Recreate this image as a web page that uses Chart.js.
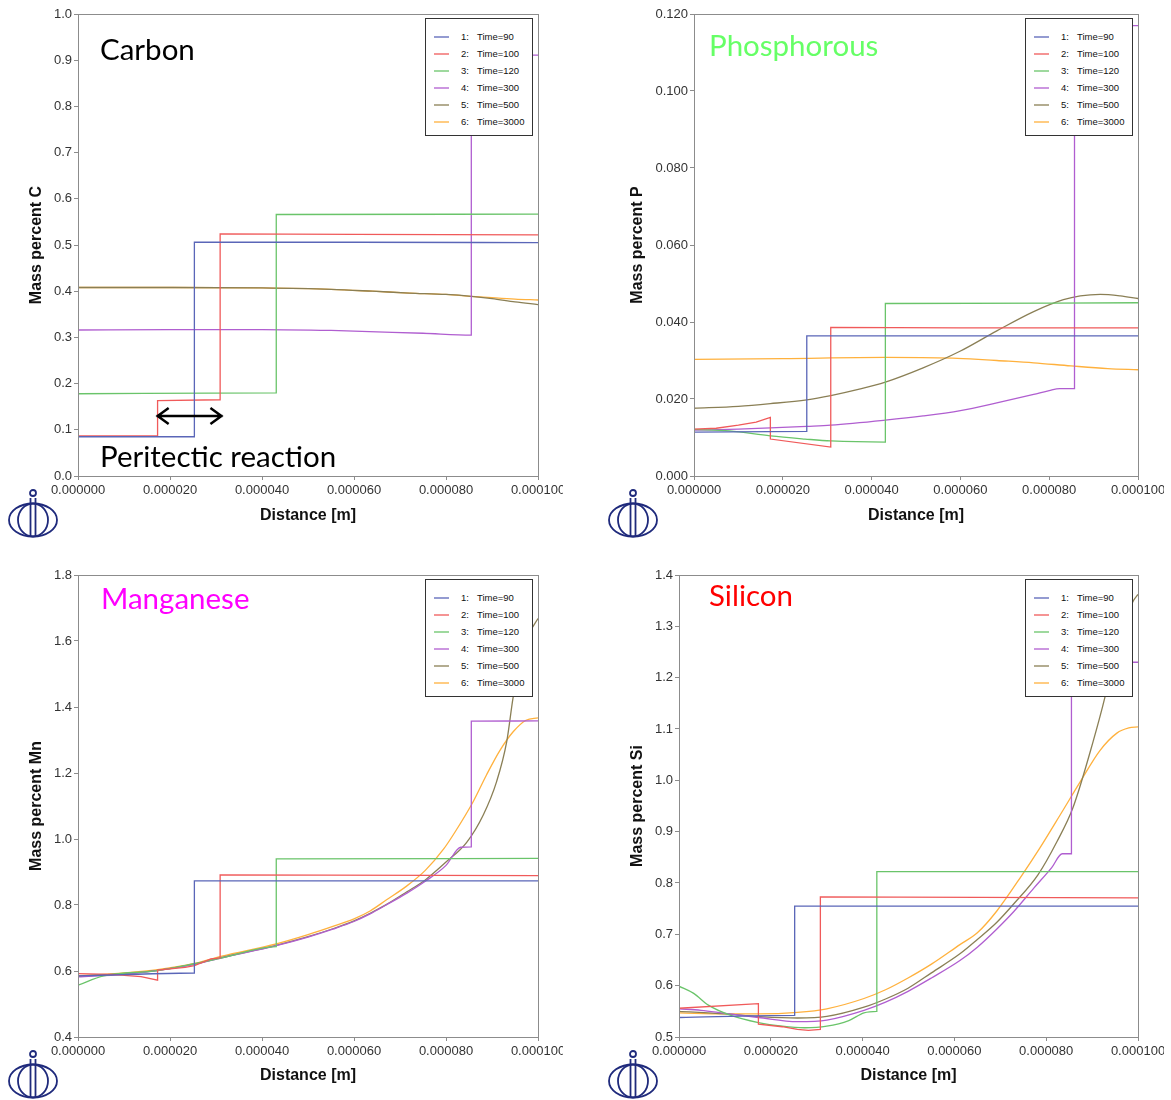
<!DOCTYPE html>
<html>
<head>
<meta charset="utf-8">
<title>Concentration profiles</title>
<script src="https://cdn.jsdelivr.net/npm/chart.js@4.4.1/dist/chart.umd.min.js"></script>
<style>
  html, body { margin: 0; padding: 0; background: #fff; }
  #page { position: relative; width: 1171px; height: 1100px; overflow: hidden; }
  #page canvas { position: absolute; }
  .note { position: absolute; font-family: Lato, "Open Sans", sans-serif; font-size: 29.5px; line-height: 29px; white-space: nowrap; }
  .legend { position: absolute; box-sizing: border-box; width: 108px; height: 118px; background: #fff; border: 1px solid #333;
            font-family: "Liberation Sans", Arial, sans-serif; font-size: 9.5px; color: #111; }
  .legend .row { position: absolute; left: 0; width: 100%; height: 12px; line-height: 12px; }
  .legend .swatch { position: absolute; left: 8px; top: 5px; width: 15px; height: 0; border-top: 2px solid; opacity: 0.65; }
  .legend .num { position: absolute; left: 35px; }
  .legend .lbl { position: absolute; left: 51px; white-space: nowrap; }
  .logo { position: absolute; width: 52px; height: 50px; }
</style>
</head>
<body>
<div id="page">
  <canvas id="carbonChart" width="563" height="545" style="left:0px;top:0px"></canvas>
  <canvas id="phosChart" width="574" height="545" style="left:590px;top:0px"></canvas>
  <canvas id="mnChart" width="563" height="540" style="left:0px;top:560px"></canvas>
  <canvas id="siChart" width="574" height="540" style="left:590px;top:560px"></canvas>

  <div class="note" style="left:100px;top:34px;color:#000">Carbon</div>
  <div class="note" style="left:100px;top:441px;color:#000">Peritectic reaction</div>
  <div class="note" style="left:709px;top:30px;color:#66ff66">Phosphorous</div>
  <div class="note" style="left:101px;top:583px;color:#ff00ff">Manganese</div>
  <div class="note" style="left:709px;top:580px;color:#ff0000">Silicon</div>
</div>
<script>
// x values are in micrometres, the axis shows metres
const timeLabels = ['Time=90', 'Time=100', 'Time=120', 'Time=300', 'Time=500', 'Time=3000'];
const seriesColors = ['#5a66b8', '#f05a5a', '#6ac46a', '#b05ed0', '#8a7f55', '#ffb13d'];
// Time=100 has sharp kinks, the others are drawn as smooth curves
const smoothSeries = [true, false, true, true, true, true];

// Carbon
const carbon90 = [[0, 0.085], [25.3, 0.085], [25.3, 0.506], [60, 0.506], [100, 0.505]];
const carbon100 = [[0, 0.087], [17.3, 0.087], [17.3, 0.163], [30.9, 0.165], [30.9, 0.524], [60, 0.523], [100, 0.522]];
const carbon120 = [[0, 0.178], [43.1, 0.180], [43.1, 0.566], [100, 0.567]];
const carbon300 = [[0, 0.316], [20, 0.317], [40, 0.317], [55, 0.315], [65, 0.312], [75, 0.309], [85.5, 0.305], [85.5, 0.911], [100, 0.911]];
const carbon500 = [[0, 0.408], [20, 0.408], [40, 0.407], [55, 0.404], [64, 0.400], [72, 0.396], [80, 0.393], [85.5, 0.389], [90, 0.384], [95, 0.377], [100, 0.371]];
const carbon3000 = [[0, 0.408], [20, 0.408], [40, 0.407], [55, 0.404], [64, 0.400], [72, 0.396], [80, 0.393], [85.5, 0.389], [90, 0.386], [95, 0.383], [100, 0.381]];

// Phosphorous
const phos90 = [[0, 0.0114], [25.4, 0.0116], [25.4, 0.0364], [100, 0.0364]];
const phos100 = [[0, 0.0122], [5, 0.0124], [10, 0.0132], [14, 0.0140], [17.2, 0.0152], [17.2, 0.0096], [30.8, 0.0075], [30.8, 0.0386], [60, 0.0385], [100, 0.0385]];
const phos120 = [[0, 0.0121], [8, 0.0117], [17.2, 0.0104], [25, 0.0096], [30.8, 0.0091], [43.1, 0.0088], [43.1, 0.0448], [100, 0.0450]];
const phos300 = [[0, 0.0119], [10, 0.0122], [17.2, 0.0125], [25.4, 0.0129], [30.8, 0.0132], [43.1, 0.0145], [51.6, 0.0156], [60, 0.0170], [68.2, 0.0190], [76.5, 0.0212], [80, 0.0222], [82.4, 0.0227], [85.7, 0.0227], [85.7, 0.1170], [100, 0.1170]];
const phos500 = [[0, 0.0176], [10, 0.0181], [17.2, 0.0188], [25.4, 0.0198], [30.8, 0.0209], [37, 0.0225], [43.1, 0.0244], [51.6, 0.0281], [59.9, 0.0324], [68.2, 0.0377], [76.5, 0.0427], [83.2, 0.0458], [87, 0.0468], [91.5, 0.0472], [96, 0.0468], [100, 0.0461]];
const phos3000 = [[0, 0.0303], [20, 0.0305], [43.1, 0.0308], [58.2, 0.0306], [64, 0.0303], [68.2, 0.0300], [76.5, 0.0294], [84.9, 0.0286], [93.2, 0.0279], [100, 0.0276]];

// Manganese
const mn90 = [[0, 0.585], [10, 0.589], [25.3, 0.594], [25.3, 0.873], [100, 0.873]];
const mn100 = [[0, 0.592], [7.2, 0.590], [13.7, 0.583], [17.3, 0.572], [17.3, 0.603], [23.3, 0.611], [25.3, 0.616], [28.9, 0.637], [30.9, 0.640], [30.9, 0.891], [100, 0.889]];
const mn120 = [[0, 0.557], [5.6, 0.585], [17.3, 0.601], [25.3, 0.622], [31.3, 0.640], [43.1, 0.674], [43.1, 0.940], [100, 0.941]];
const mn300 = [[0, 0.582], [10, 0.590], [17.3, 0.601], [25.3, 0.620], [31.3, 0.640], [43.1, 0.677], [50, 0.703], [55.4, 0.727], [60, 0.750], [63.5, 0.773], [67, 0.800], [71.5, 0.836], [75.5, 0.872], [80, 0.920], [83.2, 0.975], [85.5, 0.976], [85.5, 1.357], [100, 1.358]];
const mn500 = [[0, 0.584], [10, 0.592], [17.3, 0.602], [25.3, 0.621], [31.3, 0.641], [43.1, 0.678], [50, 0.704], [55.4, 0.728], [60, 0.752], [63.5, 0.775], [67, 0.801], [71.5, 0.840], [75.5, 0.876], [80, 0.930], [84.5, 0.990], [88.1, 1.073], [91, 1.174], [93.2, 1.295], [94.6, 1.430], [96, 1.530], [98, 1.620], [100, 1.668]];
const mn3000 = [[0, 0.585], [10, 0.594], [17.3, 0.604], [25.3, 0.623], [31.3, 0.645], [43.1, 0.682], [50, 0.710], [55.4, 0.735], [60, 0.758], [63.5, 0.782], [67, 0.815], [71.5, 0.858], [75.5, 0.905], [79.5, 0.970], [82, 1.022], [85.9, 1.113], [88.8, 1.194], [91.7, 1.268], [94.6, 1.325], [97.4, 1.360], [100, 1.367]];

// Silicon
const si90 = [[0, 0.538], [25.2, 0.542], [25.2, 0.755], [100, 0.755]];
const si100 = [[0, 0.556], [17.3, 0.565], [17.3, 0.525], [22.5, 0.520], [25.8, 0.515], [28.2, 0.513], [30.8, 0.515], [30.8, 0.773], [100, 0.771]];
const si120 = [[0, 0.599], [3.2, 0.585], [6.4, 0.562], [11.3, 0.542], [17.3, 0.528], [22.5, 0.521], [27.4, 0.518], [32.2, 0.521], [37, 0.532], [40.3, 0.547], [43.1, 0.550], [43.1, 0.822], [100, 0.822]];
const si300 = [[0, 0.555], [4.8, 0.552], [10, 0.546], [17.3, 0.538], [25.8, 0.530], [32.2, 0.533], [40.3, 0.552], [45, 0.568], [49.9, 0.589], [55, 0.615], [61.2, 0.649], [65, 0.675], [69.2, 0.710], [73, 0.745], [77.3, 0.790], [81.2, 0.830], [83.5, 0.857], [85.5, 0.857], [85.5, 1.230], [100, 1.230]];
const si500 = [[0, 0.550], [10, 0.545], [17.3, 0.540], [25.8, 0.537], [32.2, 0.540], [40.3, 0.558], [45, 0.574], [49.9, 0.595], [55, 0.625], [61.2, 0.662], [65, 0.690], [69.2, 0.723], [73, 0.760], [78.2, 0.816], [82.3, 0.880], [85.8, 0.946], [90.2, 1.075], [92.8, 1.162], [95, 1.250], [97, 1.310], [99, 1.350], [100, 1.362]];
const si3000 = [[0, 0.547], [10, 0.545], [17.3, 0.545], [25.8, 0.548], [32.2, 0.555], [40.3, 0.575], [45, 0.592], [49.9, 0.615], [55, 0.642], [61.2, 0.680], [65, 0.703], [69.2, 0.745], [74.7, 0.815], [78.6, 0.868], [83, 0.932], [87.4, 0.997], [91.7, 1.058], [95.4, 1.092], [98, 1.102], [100, 1.104]];

// peritectic arrow (micrometres, mass percent C)
const arrowSpan = [17.1, 31.4];
const arrowLevel = 0.13;

Chart.defaults.font.family = "'Liberation Sans', Arial, sans-serif";

// grey frame round the plot area
const framePlugin = {
    id: 'frame',
    afterDatasetsDraw(chart) {
        const { ctx, chartArea: a } = chart;
        ctx.save();
        ctx.strokeStyle = '#8c8c8c';
        ctx.lineWidth = 1;
        ctx.strokeRect(Math.round(a.left) + 0.5, Math.round(a.top) + 0.5,
            Math.round(a.right - a.left), Math.round(a.bottom - a.top));
        ctx.restore();
    }
};

const arrowPlugin = {
    id: 'peritecticArrow',
    afterDatasetsDraw(chart) {
        const ctx = chart.ctx;
        const x0 = chart.scales.x.getPixelForValue(arrowSpan[0]);
        const x1 = chart.scales.x.getPixelForValue(arrowSpan[1]);
        const y = chart.scales.y.getPixelForValue(arrowLevel);
        ctx.save();
        ctx.strokeStyle = '#000';
        ctx.lineWidth = 2.5;
        ctx.beginPath();
        ctx.moveTo(x0, y);
        ctx.lineTo(x1, y);
        ctx.moveTo(x0 + 12, y - 8);
        ctx.lineTo(x0 + 1, y);
        ctx.lineTo(x0 + 12, y + 8);
        ctx.moveTo(x1 - 12, y - 8);
        ctx.lineTo(x1 - 1, y);
        ctx.lineTo(x1 - 12, y + 8);
        ctx.stroke();
        ctx.restore();
    }
};

// p.box and p.plot are page coordinates; the canvas sits at p.box
function makePanel(p) {
    const [bx, by, bw, bh] = p.box;
    const [left, top, right, bottom] = p.plot;
    const extra = p.arrow ? [arrowPlugin] : [];

    const chart = new Chart(document.getElementById(p.id), {
        type: 'line',
        data: {
            datasets: p.series.map((pts, i) => ({
                label: timeLabels[i],
                data: pts.map(([x, y]) => ({ x, y })),
                borderColor: seriesColors[i],
                borderWidth: 1.3,
                pointRadius: 0,
                cubicInterpolationMode: smoothSeries[i] ? 'monotone' : 'default',
                tension: 0,
                fill: false
            }))
        },
        options: {
            responsive: false,
            animation: false,
            devicePixelRatio: 1,
            events: [],
            layout: { padding: { left: 0, top: top - by, right: bx + bw - right, bottom: 0 } },
            plugins: { legend: { display: false }, tooltip: { enabled: false } },
            scales: {
                x: {
                    type: 'linear',
                    min: 0,
                    max: 100,
                    ticks: {
                        stepSize: 20,
                        autoSkip: false,
                        maxRotation: 0,
                        padding: 3,
                        color: '#333',
                        font: { size: 13 },
                        callback: v => (v / 1e6).toFixed(6)
                    },
                    grid: { drawOnChartArea: false, drawTicks: true, tickLength: 4, color: '#8c8c8c' },
                    border: { display: false },
                    title: {
                        display: true,
                        text: 'Distance [m]',
                        color: '#111',
                        font: { size: 16, weight: 'bold' },
                        padding: { top: 0, bottom: by + bh - p.xTitleY - 9.6 }
                    },
                    afterFit: s => { s.height = by + bh - bottom; s.paddingLeft = 0; s.paddingRight = 0; }
                },
                y: {
                    type: 'linear',
                    min: p.yMin,
                    max: p.yMax,
                    ticks: {
                        stepSize: p.yStep,
                        padding: 2,
                        color: '#333',
                        font: { size: 13 },
                        callback: v => v.toFixed(p.yDec)
                    },
                    grid: { drawOnChartArea: false, drawTicks: true, tickLength: 4, color: '#8c8c8c' },
                    border: { display: false },
                    title: {
                        display: true,
                        text: p.yTitle,
                        color: '#111',
                        font: { size: 16, weight: 'bold' },
                        padding: { top: p.yTitleX - bx - 9.6, bottom: 0 }
                    },
                    afterFit: s => { s.width = left - bx; s.paddingTop = 0; s.paddingBottom = 0; }
                }
            }
        },
        plugins: [framePlugin, ...extra]
    });

    // legend built from the datasets, placed inside the top right corner
    const page = document.getElementById('page');
    const legend = document.createElement('div');
    legend.className = 'legend';
    legend.style.left = (bx + chart.chartArea.right - 5 - 108) + 'px';
    legend.style.top = (by + chart.chartArea.top + 4) + 'px';
    chart.data.datasets.forEach((ds, i) => {
        const row = document.createElement('div');
        row.className = 'row';
        row.style.top = (12 + 17 * i) + 'px';
        row.innerHTML = `<span class="swatch" style="border-color:${ds.borderColor}"></span>` +
            `<span class="num">${i + 1}:</span><span class="lbl">${ds.label}</span>`;
        legend.appendChild(row);
    });
    page.appendChild(legend);

    // company logo under the y axis
    const logo = document.createElement('div');
    logo.className = 'logo';
    logo.style.left = p.logo[0] + 'px';
    logo.style.top = p.logo[1] + 'px';
    logo.innerHTML = `<svg width="52" height="50" viewBox="0 0 52 50">
        <g fill="none" stroke="#1f2a7c" stroke-width="1.8">
          <circle cx="26" cy="5" r="3"/>
          <ellipse cx="26" cy="32" rx="24" ry="16.5"/>
          <ellipse cx="26" cy="32" rx="15" ry="16.5"/>
          <line x1="23.5" y1="10" x2="23.5" y2="48"/>
          <line x1="28.5" y1="10" x2="28.5" y2="48"/>
        </g></svg>`;
    page.appendChild(logo);
    return chart;
}

const panels = [
    { id: 'carbonChart', box: [0, 0, 563, 545], plot: [78, 14, 538, 476], yTitleX: 37, xTitleY: 515.5,
      yTitle: 'Mass percent C', yMin: 0, yMax: 1, yStep: 0.1, yDec: 1, logo: [7, 488], arrow: true,
      series: [carbon90, carbon100, carbon120, carbon300, carbon500, carbon3000] },
    { id: 'phosChart', box: [590, 0, 574, 545], plot: [694, 14, 1138, 476], yTitleX: 638, xTitleY: 515.5,
      yTitle: 'Mass percent P', yMin: 0, yMax: 0.12, yStep: 0.02, yDec: 3, logo: [607, 488],
      series: [phos90, phos100, phos120, phos300, phos500, phos3000] },
    { id: 'mnChart', box: [0, 560, 563, 540], plot: [78, 575, 538, 1037], yTitleX: 37, xTitleY: 1075.5,
      yTitle: 'Mass percent Mn', yMin: 0.4, yMax: 1.8, yStep: 0.2, yDec: 1, logo: [7, 1049],
      series: [mn90, mn100, mn120, mn300, mn500, mn3000] },
    { id: 'siChart', box: [590, 560, 574, 540], plot: [679, 575, 1138, 1037], yTitleX: 638, xTitleY: 1075.5,
      yTitle: 'Mass percent Si', yMin: 0.5, yMax: 1.4, yStep: 0.1, yDec: 1, logo: [607, 1049],
      series: [si90, si100, si120, si300, si500, si3000] }
];

panels.forEach(makePanel);
</script>
</body>
</html>
